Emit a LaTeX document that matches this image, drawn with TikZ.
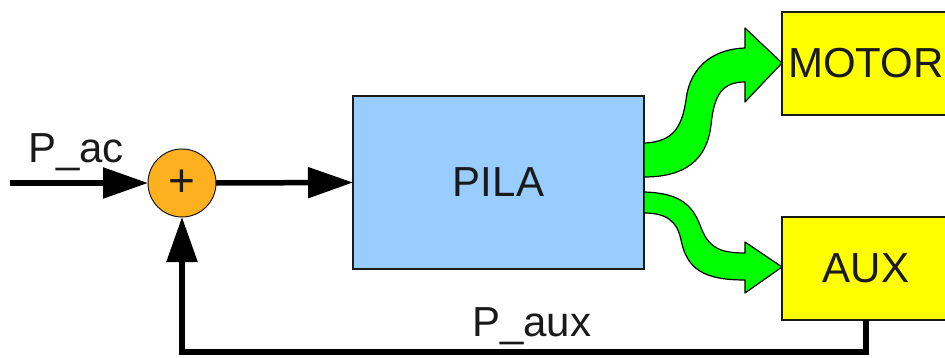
\documentclass[tikz,border=0pt]{standalone}
\usepackage{fontspec}
\setmainfont{Liberation Sans}
\usetikzlibrary{arrows.meta}
\definecolor{pilablue}{HTML}{99CCFF}
\definecolor{sumorange}{HTML}{FFB01E}
\definecolor{boxyellow}{HTML}{FFFF00}
\definecolor{flowgreen}{HTML}{00FF00}
\definecolor{inkgray}{HTML}{1A1A1A}
\begin{document}
\begin{tikzpicture}[x=1pt,y=-1pt,
  lbl/.style={font=\fontsize{42}{50}\selectfont, text=inkgray},
  block/.style={draw=inkgray, line width=1.5pt, inner sep=0pt, outer sep=0pt,
    font=\fontsize{42}{50}\selectfont, text=inkgray},
  sig/.style={line width=5.5pt, draw=black, line join=miter,
    -{Triangle[length=45pt,width=30pt]}},
  flow/.style={draw=black, line width=1.2pt, fill=flowgreen, line join=round}]
\useasboundingbox (0,0) rectangle (945,358);
\clip (0,0) rectangle (945,358);

% blocks
\node[block, fill=pilablue, minimum width=291pt, minimum height=173pt] (pila) at (498.5,182.5) {PILA};
\node[block, fill=boxyellow, minimum width=168pt, minimum height=103pt] (motor) at (866,63.5) {MOTOR};
\node[block, fill=boxyellow, minimum width=168pt, minimum height=103pt] (aux) at (866,268.5) {AUX};
\node[circle, draw=inkgray, line width=1pt, fill=sumorange, minimum size=68pt,
  inner sep=0pt, outer sep=0pt, font=\fontsize{46}{48}\selectfont, text=inkgray] (sum) at (182,183) {+};

% labels
\node[lbl, anchor=base west, inner sep=0pt] (pac) at (28,163) {P\_ac};
\node[lbl, anchor=base west, inner sep=0pt] (paux) at (472,336) {P\_aux};

% signal connectors
\coordinate (in) at (10,183);
\coordinate (fb) at (866,352);
\draw[sig] (in) -- (sum.west);
\draw[sig] (sum.east) -- (pila.west);
\draw[sig] (aux.south) -- (fb) -| (sum.south);

% green flow arrows
\draw[flow] (644,143) .. controls (675,142) and (682,125) .. (686,100)
  .. controls (690,65) and (715,49) .. (745,48) -- (745,28) -- (782,63)
  -- (745,102) -- (745,82) .. controls (722,82) and (714,95) .. (711,125)
  .. controls (707,160) and (685,177) .. (644,177) -- cycle;
\draw[flow] (644,192) .. controls (680,193) and (692,205) .. (700,225)
  .. controls (708,248) and (720,253) .. (745,253) -- (745,242) -- (782,267)
  -- (745,293) -- (745,280) .. controls (705,280) and (687,270) .. (681,240)
  .. controls (677,220) and (665,213) .. (644,213) -- cycle;
\end{tikzpicture}
\end{document}
